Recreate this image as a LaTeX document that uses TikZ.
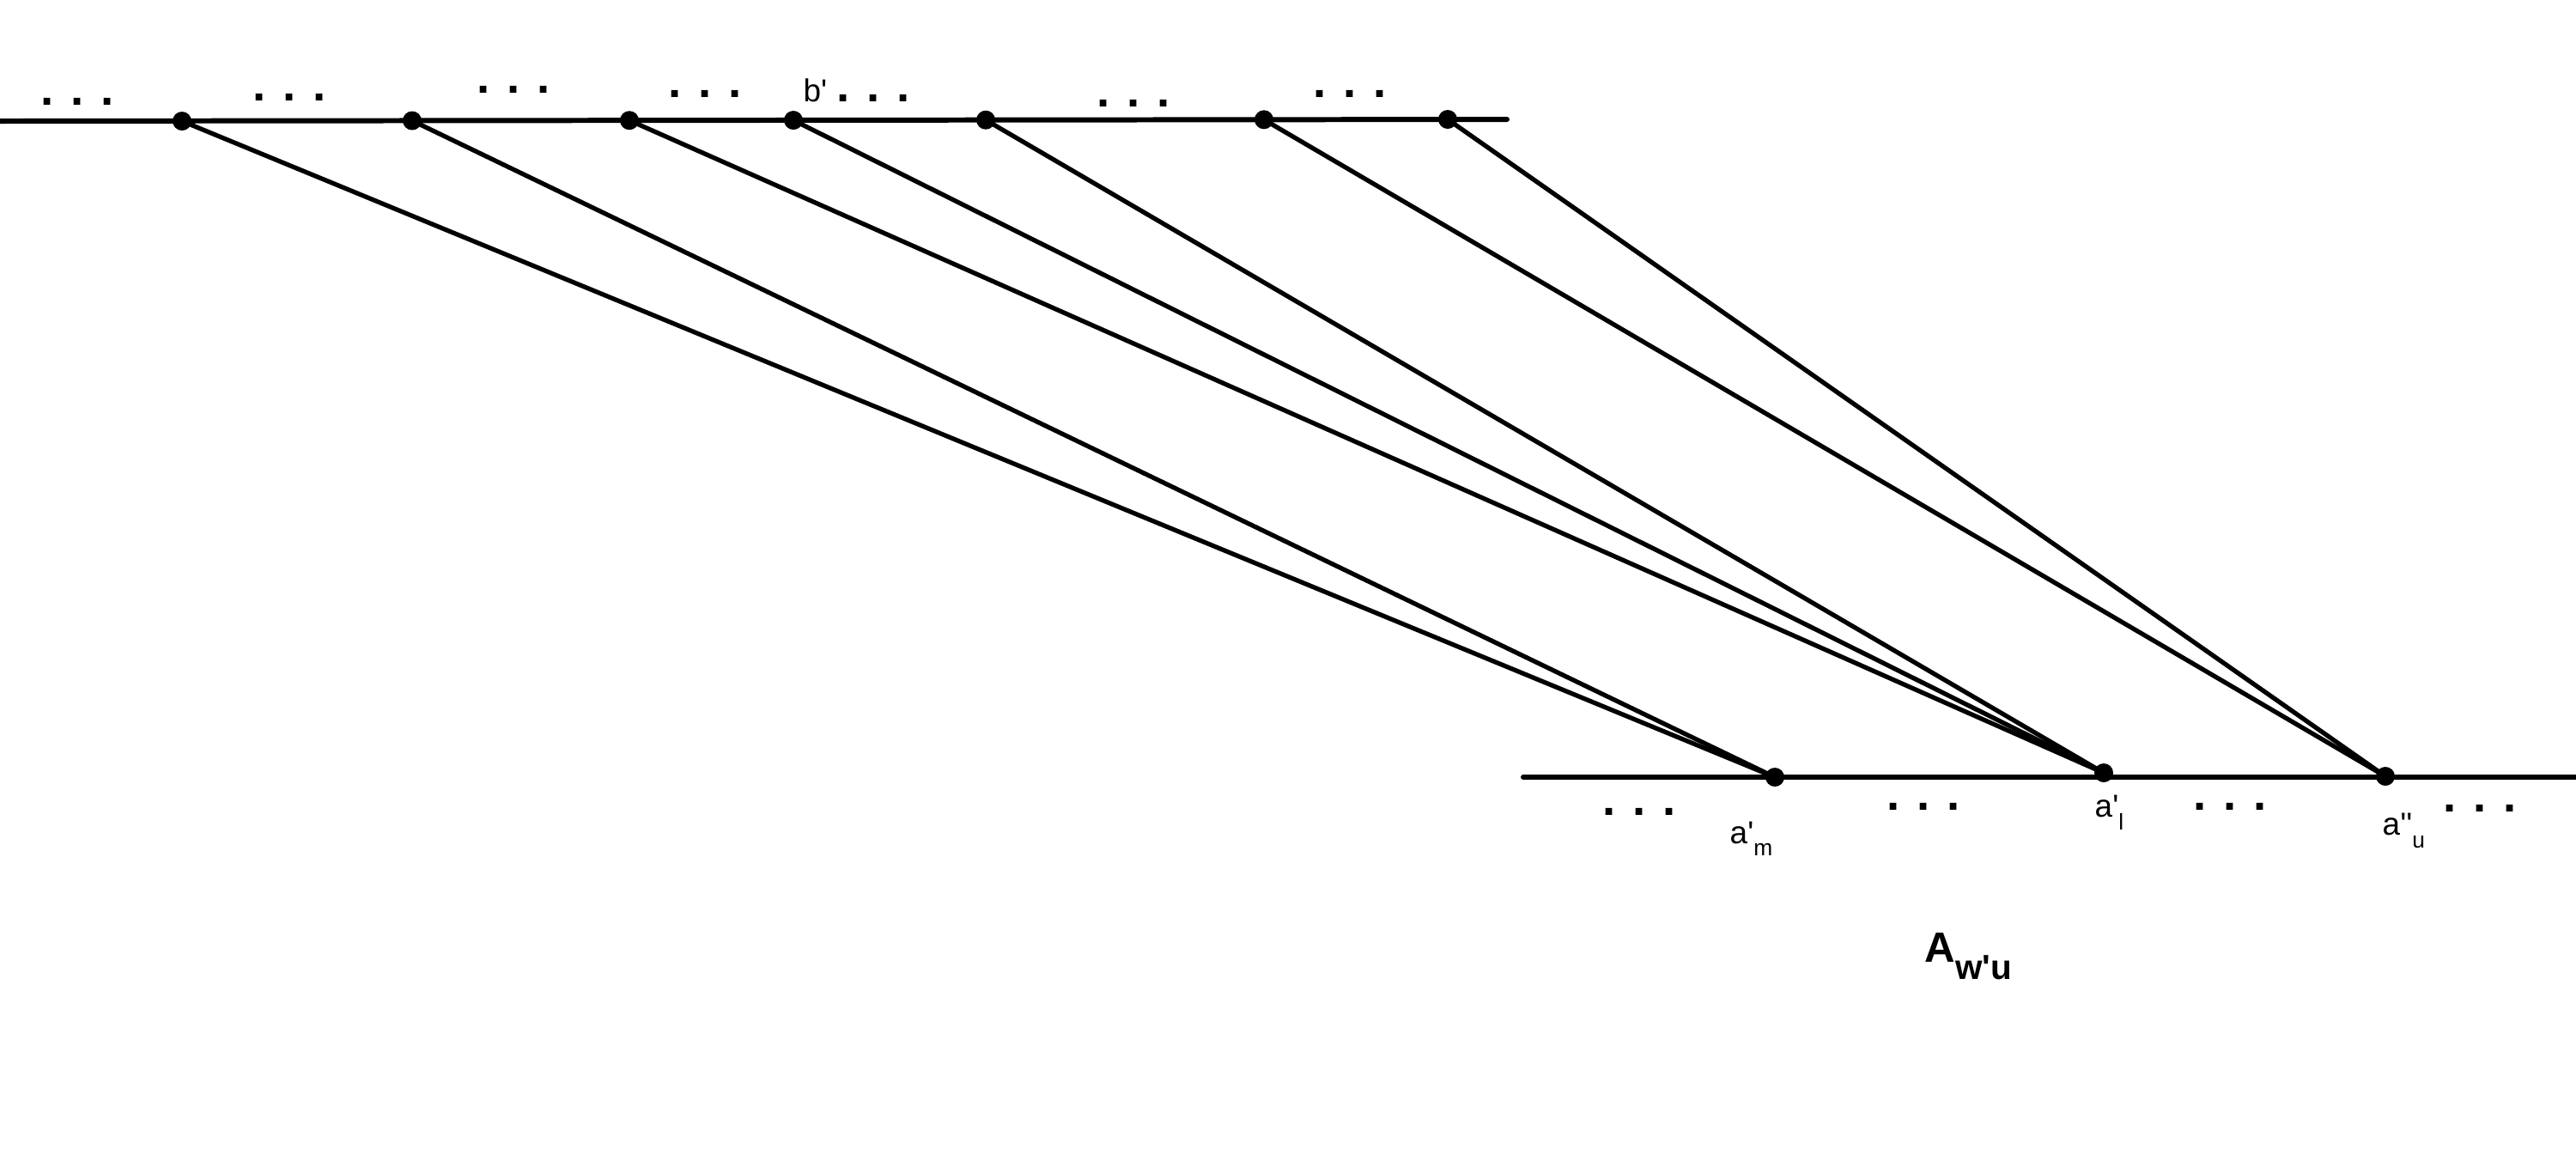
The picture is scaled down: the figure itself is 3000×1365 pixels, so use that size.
\documentclass[tikz,border=0pt]{standalone}
\usepackage{fontspec}
\setmainfont{Liberation Sans}
\begin{document}
\begin{tikzpicture}[x=0.01cm,y=-0.01cm,
  dotnode/.style={circle,fill=black,draw=none,inner sep=0pt,minimum size=0.22cm},
  axisline/.style={line width=1.7pt,line cap=round},
  link/.style={line width=1.5pt},
  ell/.style={inner sep=0pt,font=\fontsize{15.5}{16}\selectfont\bfseries},
  lab/.style={inner sep=0pt,anchor=base west,font=\fontsize{10.5}{12}\selectfont},
]
\useasboundingbox (0,0) rectangle (3000,1365);
% axes
\coordinate (topL) at (0,141);
\coordinate (topR) at (1755,139);
\coordinate (botL) at (1774,905);
\coordinate (botR) at (3000,905);
\draw[axisline] (topL) -- (topR);
\draw[axisline] (botL) -- (botR);
% dots
\node[dotnode] (t1) at (212,141) {};
\node[dotnode] (t2) at (480,140.5) {};
\node[dotnode] (t3) at (733,140.2) {};
\node[dotnode] (t4) at (924,140) {};
\node[dotnode] (t5) at (1148,139.7) {};
\node[dotnode] (t6) at (1472,139.3) {};
\node[dotnode] (t7) at (1686,139) {};
\node[dotnode] (am) at (2067,905) {};
\node[dotnode] (al) at (2450,900) {};
\node[dotnode] (au) at (2778,904) {};
% links
\draw[link] (t1.center) -- (am.center);
\draw[link] (t2.center) -- (am.center);
\draw[link] (t3.center) -- (al.center);
\draw[link] (t4.center) -- (al.center);
\draw[link] (t5.center) -- (al.center);
\draw[link] (t6.center) -- (au.center);
\draw[link] (t7.center) -- (au.center);
% ellipses
\node[ell] (e1) at (90,118) {. . .};
\node[ell] (e2) at (337,113) {. . .};
\node[ell] (e3) at (598,104) {. . .};
\node[ell] (e4) at (821,109) {. . .};
\node[ell] (e5) at (1017,114) {. . .};
\node[ell] (e6) at (1320,120) {. . .};
\node[ell] (e7) at (1572,109) {. . .};
\node[ell] (e8) at (1909,945) {. . .};
\node[ell] (e9) at (2240,939) {. . .};
\node[ell] (e10) at (2597,939) {. . .};
\node[ell] (e11) at (2888,941) {. . .};
% labels
\node[lab] (lb) at (935,118) {b\textquotesingle};
\node[lab] (lam) at (2014,982) {a\textquotesingle\raisebox{-4.1pt}{\fontsize{7.5}{8}\selectfont m}};
\node[lab] (lal) at (2439,951) {a\textquotesingle\raisebox{-4.3pt}{\fontsize{7.5}{8}\selectfont l}};
\node[lab] (lau) at (2774,972) {a\textquotesingle\textquotesingle\raisebox{-4.3pt}{\fontsize{7.5}{8}\selectfont u}};
\node[inner sep=0pt,anchor=base west] (title) at (2241,1120) {\fontsize{14}{16}\selectfont\bfseries A\raisebox{-5.7pt}{\fontsize{11.5}{13}\selectfont\bfseries w\textquotesingle u}};
\end{tikzpicture}
\end{document}
